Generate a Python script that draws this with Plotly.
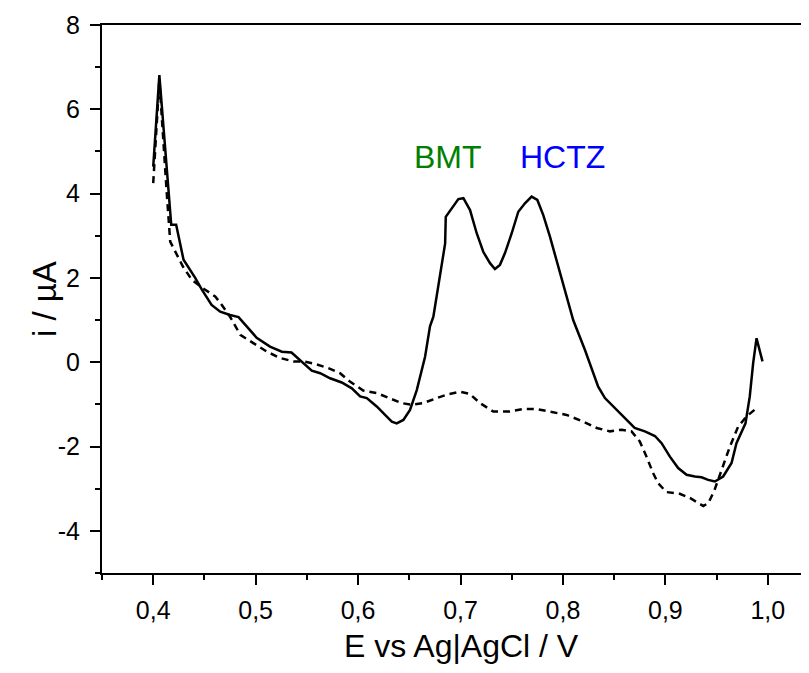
import plotly.graph_objects as go

# potential (V) and current (uA)
e_solid = [0.400, 0.406, 0.4176, 0.4224, 0.4296, 0.441, 0.4475, 0.457, 0.4654, 0.475,
           0.4833, 0.4914, 0.501, 0.514, 0.5256, 0.535, 0.545, 0.5548, 0.563, 0.5727,
           0.584, 0.5939, 0.602, 0.6085, 0.6182, 0.6263, 0.6329, 0.6377, 0.6442, 0.6507,
           0.6573, 0.6654, 0.6702, 0.6735, 0.678, 0.685, 0.6856, 0.6914, 0.6979, 0.7028,
           0.7093, 0.7158, 0.7222, 0.7288, 0.7336, 0.7385, 0.7434, 0.75, 0.7564, 0.7629,
           0.7694, 0.775, 0.7808, 0.7873, 0.7938, 0.8003, 0.81, 0.8215, 0.826, 0.8344,
           0.841, 0.8507, 0.8605, 0.87, 0.88, 0.8898, 0.8963, 0.9044, 0.9125, 0.9207,
           0.9288, 0.9353, 0.9418, 0.9483, 0.9564, 0.9646, 0.9694, 0.9759, 0.9782, 0.9824,
           0.9857, 0.989, 0.9948]
i_solid = [4.64, 6.81, 3.26, 3.26, 2.43, 2.0, 1.72, 1.36, 1.20, 1.12,
           1.07, 0.85, 0.58, 0.37, 0.25, 0.23, 0.02, -0.2, -0.26, -0.38,
           -0.48, -0.62, -0.81, -0.85, -1.05, -1.25, -1.41, -1.45, -1.37, -1.13,
           -0.66, 0.13, 0.85, 1.08, 1.79, 2.82, 3.45, 3.65, 3.87, 3.89,
           3.61, 3.06, 2.62, 2.35, 2.21, 2.31, 2.59, 3.06, 3.57, 3.77,
           3.93, 3.85, 3.49, 2.98, 2.43, 1.87, 1.0, 0.29, -0.02, -0.58,
           -0.85, -1.09, -1.33, -1.56, -1.64, -1.75, -1.92, -2.24, -2.51, -2.67,
           -2.71, -2.73, -2.79, -2.83, -2.71, -2.39, -1.92, -1.6, -1.45, -0.81,
           -0.02, 0.57, 0.02]

e_dash = [0.400, 0.406, 0.413, 0.4166, 0.429, 0.4378, 0.4507, 0.4605, 0.4654, 0.475,
          0.485, 0.4976, 0.511, 0.524, 0.537, 0.5466, 0.558, 0.571, 0.5824, 0.592,
          0.605, 0.618, 0.6295, 0.6426, 0.6524, 0.6637, 0.6767, 0.6864, 0.6995, 0.709,
          0.719, 0.732, 0.748, 0.7613, 0.7743, 0.7873, 0.8036, 0.82, 0.833, 0.8459,
          0.8573, 0.867, 0.875, 0.8816, 0.888, 0.8929, 0.901, 0.914, 0.924, 0.937,
          0.942, 0.948, 0.9564, 0.963, 0.971, 0.979, 0.987]
i_dash = [4.25, 6.7, 4.09, 2.86, 2.27, 1.95, 1.72, 1.56, 1.41, 1.08,
          0.65, 0.46, 0.25, 0.1, 0.02, 0.02, -0.04, -0.14, -0.26, -0.46,
          -0.67, -0.73, -0.85, -0.97, -1.01, -0.97, -0.85, -0.77, -0.7, -0.75,
          -0.97, -1.17, -1.17, -1.11, -1.11, -1.17, -1.25, -1.41, -1.56, -1.64,
          -1.6, -1.64, -1.88, -2.24, -2.63, -2.87, -3.08, -3.12, -3.22, -3.41,
          -3.34, -3.03, -2.47, -2.0, -1.53, -1.29, -1.13]

peak_names = ["BMT", "HCTZ"]
peak_e = [0.6876, 0.7998]
peak_i = [4.88, 4.88]
peak_colors = ["green", "blue"]

x_ticks = [0.4, 0.5, 0.6, 0.7, 0.8, 0.9, 1.0]
x_labels = ["0,4", "0,5", "0,6", "0,7", "0,8", "0,9", "1,0"]
y_ticks = [-4, -2, 0, 2, 4, 6, 8]
y_labels = ["-4", "-2", "0", "2", "4", "6", "8"]

font = "Liberation Sans, Arial, sans-serif"

fig = go.Figure()
fig.add_trace(go.Scatter(x=e_dash, y=i_dash, mode="lines",
                         line=dict(color="black", width=2.5, dash="7px,5px"),
                         showlegend=False))
fig.add_trace(go.Scatter(x=e_solid, y=i_solid, mode="lines",
                         line=dict(color="black", width=2.5),
                         showlegend=False))

for name, e, i, c in zip(peak_names, peak_e, peak_i, peak_colors):
    fig.add_annotation(x=e, y=i, text=name, showarrow=False,
                       font=dict(family=font, size=32, color=c))

# axis titles
fig.add_annotation(xref="paper", yref="paper", x=0.514, y=0, yshift=-73,
                   xanchor="center", yanchor="middle", showarrow=False,
                   text="E vs Ag|AgCl / V", font=dict(family=font, size=32, color="black"))
fig.add_annotation(xref="paper", yref="paper", x=0, xshift=-58, y=0.5,
                   xanchor="center", yanchor="middle", showarrow=False, textangle=-90,
                   text="i / µA", font=dict(family=font, size=33, color="black"))

# page body has an 8px margin; keep the figure inside the window (no scrollbars)
fig.update_layout(
    width=793, height=657,
    margin=dict(l=93.5, r=0, t=17, b=91.8, autoexpand=False),
    plot_bgcolor="white", paper_bgcolor="white",
    font=dict(family=font, color="black"),
    showlegend=False,
)
fig.update_xaxes(
    range=[0.35, 1.0324], showgrid=False, zeroline=False, automargin=False,
    showline=True, linecolor="black", linewidth=2, mirror=True,
    ticks="outside", ticklen=10, tickwidth=2, tickcolor="black",
    tickvals=x_ticks, ticktext=x_labels, ticklabelstandoff=4,
    minor=dict(ticks="outside", ticklen=5, tickwidth=2, tickcolor="black",
               tick0=0.35, dtick=0.05),
    tickfont=dict(size=25),
)
fig.update_yaxes(
    range=[-5, 8], showgrid=False, zeroline=False, automargin=False,
    showline=True, linecolor="black", linewidth=2,
    ticks="outside", ticklen=10, tickwidth=2, tickcolor="black",
    tickvals=y_ticks, ticktext=y_labels, ticklabelstandoff=5,
    minor=dict(ticks="outside", ticklen=5, tickwidth=2, tickcolor="black",
               tick0=0, dtick=1),
    tickfont=dict(size=25),
)

fig.write_html("out.html")
